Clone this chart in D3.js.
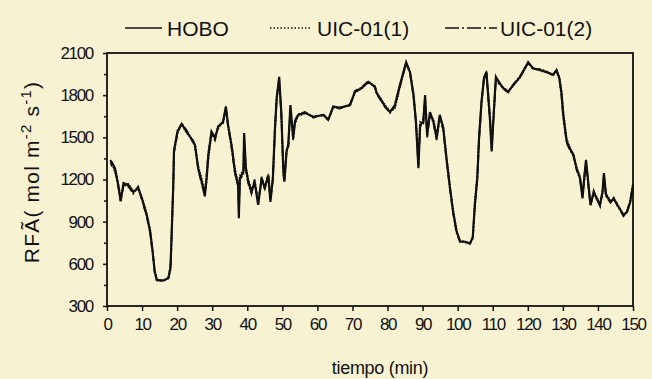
<!DOCTYPE html>
<html><head><meta charset="utf-8">
<script src="https://cdn.jsdelivr.net/npm/d3@7"></script>
<style>
html,body{margin:0;padding:0;background:#f7f3d2;}
text{font-family:"Liberation Sans",Arial,sans-serif;fill:#111;}
</style></head>
<body>
<svg id="chart" width="652" height="379"></svg>
<script>
// ---- data ----
const times = [1,1.3,2.3,3.2,3.9,4.7,6.1,7.5,8.9,9.9,
11.3,12.3,13.0,13.6,14.2,15.5,16.5,17.5,18.1,18.4,
18.9,19.1,20.1,21.3,22.7,24.6,25.1,26.0,27.0,27.9,
28.4,28.9,29.8,30.8,31.7,33.1,33.9,34.5,35.5,36.5,
37.4,37.6,37.9,38.9,39.1,39.6,40.3,41.2,42.1,43.1,
44.1,45.0,46.0,46.6,47.3,47.9,48.4,49.1,49.7,50.3,
50.6,51.2,51.7,52.3,53.1,53.6,54.5,56.5,58.8,61.7,
63.1,64.5,66.4,69.3,70.7,72.6,74.5,76.4,76.9,79.3,
80.7,82.1,83.5,85.3,86.4,87.4,88.1,88.8,89.3,90.2,
90.7,91.3,92.1,93.1,94.0,94.9,95.9,96.8,97.8,98.7,
99.7,100.7,102.1,103.5,104.3,104.9,105.6,106.1,106.8,107.5,
108.2,108.7,109.2,109.7,110.1,110.9,111.7,113.0,114.4,115.8,
117.8,120.1,121.5,123.4,125.3,127.2,128.2,129.0,129.6,130.1,
130.6,131.1,132.0,133.0,133.9,134.9,135.6,136.1,136.6,137.5,
137.9,138.8,139.6,140.6,141.3,141.7,142.3,143.6,144.5,145.5,
146.4,147.3,148.3,149.2,150];

const hobo = [1330,1326,1280,1160,1045,1175,1160,1110,1140,1070,
950,830,690,545,485,480,485,500,570,780,
1160,1400,1540,1595,1540,1470,1445,1280,1185,1080,
1210,1375,1540,1495,1575,1610,1720,1590,1445,1255,
1160,925,1210,1255,1530,1280,1185,1110,1185,1020,
1210,1140,1230,1040,1210,1565,1780,1930,1680,1255,
1185,1400,1445,1730,1495,1610,1660,1675,1645,1660,
1625,1720,1710,1730,1825,1850,1895,1860,1815,1720,
1680,1730,1870,2035,1965,1800,1610,1280,1590,1610,
1800,1515,1680,1610,1495,1660,1565,1350,1140,970,
830,760,757,745,785,1020,1210,1495,1750,1920,
1965,1800,1635,1400,1590,1930,1895,1850,1825,1870,
1930,2035,1990,1980,1965,1945,1978,1920,1815,1660,
1565,1470,1420,1375,1280,1210,1065,1210,1340,1110,
1020,1110,1065,1020,1110,1245,1090,1040,1065,1020,
985,945,970,1040,1160];

const uic1 = [1310,1320,1250,1180,1060,1150,1170,1120,1130,1080,
960,850,700,560,490,478,482,505,600,820,
1200,1420,1550,1590,1530,1480,1420,1300,1210,1120,
1180,1330,1520,1510,1560,1620,1700,1600,1460,1280,
1180,1000,1230,1270,1480,1300,1200,1130,1160,1050,
1190,1160,1210,1070,1230,1520,1760,1900,1700,1300,
1230,1380,1470,1680,1520,1590,1650,1670,1650,1655,
1630,1710,1715,1725,1820,1845,1890,1865,1820,1730,
1690,1700,1850,2020,1975,1820,1640,1330,1560,1640,
1760,1540,1650,1630,1520,1640,1580,1380,1160,990,
840,765,752,748,800,1050,1240,1520,1770,1900,
1950,1830,1660,1450,1560,1900,1880,1855,1830,1865,
1925,2025,1995,1975,1960,1950,1970,1930,1840,1700,
1590,1490,1430,1380,1290,1220,1090,1190,1310,1130,
1040,1100,1080,1030,1100,1220,1100,1050,1060,1030,
990,950,965,1030,1140];

const uic2 = [1340,1300,1270,1150,1050,1160,1150,1100,1150,1060,
940,820,680,540,482,484,488,495,560,760,
1140,1390,1530,1600,1550,1460,1450,1270,1170,1100,
1230,1390,1530,1480,1580,1600,1710,1580,1430,1240,
1150,960,1200,1240,1500,1260,1170,1100,1200,1030,
1220,1130,1240,1060,1190,1580,1790,1910,1660,1230,
1200,1410,1430,1700,1480,1620,1665,1680,1640,1665,
1620,1715,1705,1735,1830,1855,1900,1855,1810,1715,
1675,1720,1860,2030,1960,1790,1600,1300,1610,1600,
1780,1500,1670,1600,1480,1650,1550,1340,1130,960,
820,755,760,742,780,1000,1200,1480,1740,1930,
1960,1780,1620,1420,1600,1920,1900,1845,1820,1875,
1935,2030,1985,1985,1970,1940,1975,1915,1800,1650,
1550,1460,1410,1370,1270,1200,1080,1220,1330,1100,
1010,1120,1070,1010,1120,1230,1080,1035,1070,1015,
980,940,975,1050,1170];

const seriesNames = ["HOBO", "UIC-01(1)", "UIC-01(2)"];
const xTicks = [0,10,20,30,40,50,60,70,80,90,100,110,120,130,140,150];
const yTicks = [300,600,900,1200,1500,1800,2100];
const yMinorTicks = [450,750,1050,1350,1650,1950];
const xTitle = "tiempo (min)";

// ---- drawing ----
const svg = d3.select("#chart");
const L = 107, R = 633, T = 53, B = 306;
const x = d3.scaleLinear().domain([0,150]).range([L,R]);
const y = d3.scaleLinear().domain([300,2100]).range([B,T]);

svg.append("rect").attr("width",652).attr("height",379).attr("fill","#f7f3d2");

// frame
svg.append("rect").attr("x",L).attr("y",T).attr("width",R-L).attr("height",B-T)
  .attr("fill","none").attr("stroke","#111").attr("stroke-width",1.8);

// axes
const yAxis = svg.append("g").attr("transform",`translate(${L},0)`)
  .call(d3.axisLeft(y).tickValues(yTicks).tickSize(4).tickPadding(10).tickFormat(d3.format("d")));
const yMinor = svg.append("g").attr("transform",`translate(${L},0)`)
  .call(d3.axisLeft(y).tickValues(yMinorTicks).tickSize(3).tickFormat(""));
const xAxis = svg.append("g").attr("transform",`translate(0,${B})`)
  .call(d3.axisBottom(x).tickValues(xTicks).tickSize(5).tickPadding(7).tickFormat(d3.format("d")));
[yAxis,yMinor,xAxis].forEach(g=>{
  g.select(".domain").remove();
  g.selectAll("line").attr("stroke","#111").attr("stroke-width",1.5);
  g.selectAll("text").attr("font-size",17).attr("letter-spacing",-1.3)
    .attr("font-family","'Liberation Sans',Arial,sans-serif").attr("fill","#111");
});

// lines
const mk = vals => times.map((t,i)=>[t, vals[i]]);
const line = d3.line().x(d=>x(d[0])).y(d=>y(d[1]));
const styles = [
  {vals: hobo, dash: null, w: 2.2},
  {vals: uic1, dash: "1.5,1.5", w: 1.6},
  {vals: uic2, dash: "7,2,1.5,2", w: 1.8}
];
styles.forEach(s=>{
  svg.append("path").datum(mk(s.vals)).attr("d",line)
    .attr("fill","none").attr("stroke","#111").attr("stroke-width",s.w)
    .attr("stroke-linejoin","miter")
    .attr("stroke-dasharray",s.dash);
});

// legend
const legendItems = [
  {x1:125,x2:162,tx:167,dash:null},
  {x1:270,x2:311,tx:317,dash:"1.5,2"},
  {x1:445,x2:497,tx:500,dash:"14,3,2,3"}
];
legendItems.forEach((it,i)=>{
  svg.append("line").attr("x1",it.x1).attr("x2",it.x2).attr("y1",28).attr("y2",28)
    .attr("stroke","#111").attr("stroke-width",1.6).attr("stroke-dasharray",it.dash);
  svg.append("text").attr("x",it.tx).attr("y",35.5).attr("font-size",21)
    .attr("letter-spacing",0).text(seriesNames[i]);
});

// axis titles
svg.append("text").attr("x",380).attr("y",374).attr("text-anchor","middle")
  .attr("font-size",18).attr("letter-spacing",-0.3).text(xTitle);

const yt = svg.append("text").attr("transform","translate(39,172) rotate(-90)")
  .attr("text-anchor","middle").attr("font-size",21).attr("letter-spacing",1.2);
yt.append("tspan").text("RFÃ( mol m");
yt.append("tspan").attr("dy",-8).attr("font-size",15).text("-2");
yt.append("tspan").attr("dy",8).text(" s");
yt.append("tspan").attr("dy",-8).attr("font-size",15).text("-1");
yt.append("tspan").attr("dy",8).text(")");
</script>
</body></html>
